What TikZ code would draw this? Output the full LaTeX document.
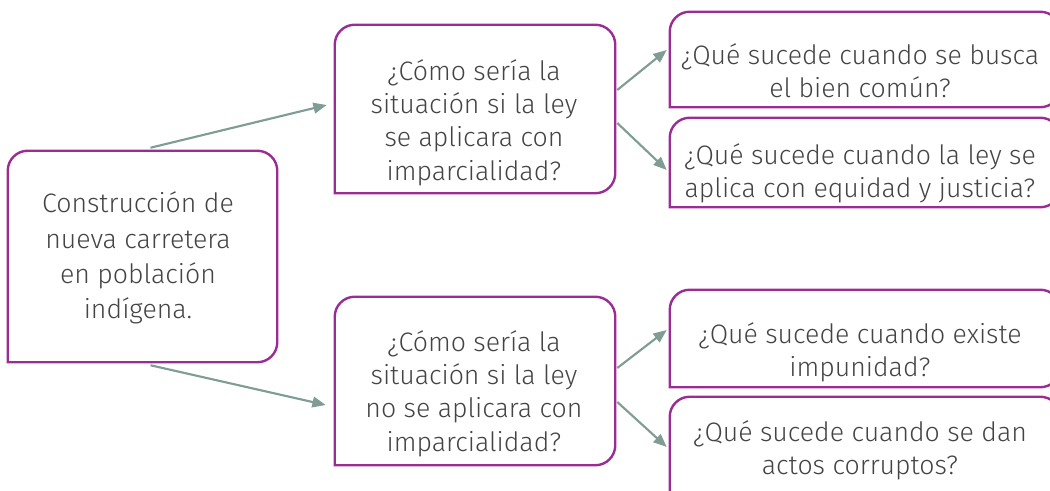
\documentclass[tikz,border=0pt]{standalone}
\usepackage{fontspec}
\setmainfont{Fira Sans}[UprightFont=* Light]
\usetikzlibrary{arrows.meta,calc}

\definecolor{framepurple}{HTML}{9B2C94}
\definecolor{arrowgray}{HTML}{7F9C95}
\definecolor{textgray}{HTML}{444444}

% frame with three rounded corners, bottom left square
\newcommand{\qframe}[1]{%
  \draw[qline] (#1.south west) -- ([yshift=-15pt]#1.north west)
    arc[start angle=180,end angle=90,radius=15pt] -- ([xshift=-15pt]#1.north east)
    arc[start angle=90,end angle=0,radius=15pt] -- ([yshift=15pt]#1.south east)
    arc[start angle=0,end angle=-90,radius=15pt] -- cycle;}

\begin{document}
\begin{tikzpicture}[x=0.75pt,y=-0.75pt,
  qbox/.style={rectangle,inner sep=0pt},
  qtext/.style={inner sep=0pt,align=center,text=textgray,
    font=\fontsize{20pt}{25pt}\selectfont},
  qline/.style={draw=framepurple,line width=1.8pt},
  qarrow/.style={draw=arrowgray,line width=1.6pt,-{Triangle[length=10pt,width=8pt]}}]
\useasboundingbox (0,0) rectangle (1050,491);
\clip (0,0) rectangle (1050,491);

%Frames
\node[qbox,minimum width=201.75pt,minimum height=158.25pt] (obra) at (142.5,256.5) {};
\node[qbox,minimum width=210pt,minimum height=126pt] (conley) at (475,109) {};
\node[qbox,minimum width=210pt,minimum height=126pt] (sinley) at (475,381) {};
\node[qbox,minimum width=292.5pt,minimum height=71.25pt] (bien) at (865,59.5) {};
\node[qbox,minimum width=292.5pt,minimum height=66.75pt] (equidad) at (865,162.5) {};
\node[qbox,minimum width=292.5pt,minimum height=72.75pt] (impunidad) at (865,338.5) {};
\node[qbox,minimum width=292.5pt,minimum height=77.25pt] (corrupcion) at (865,448.5) {};

\qframe{obra}
\qframe{conley}
\qframe{sinley}
\qframe{bien}
\qframe{equidad}
\qframe{impunidad}
\qframe{corrupcion}

%Texts
\node[qtext,font=\fontsize{20pt}{26.5pt}\selectfont] (obratxt) at (138,258)
  {Construcción de\\nueva carretera\\en población\\indígena.};
\node[qtext] (conleytxt) at (474,122.5)
  {¿Cómo sería la\\situación si la ley\\se aplicara con\\imparcialidad?};
\node[qtext] (sinleytxt) at (474,393.5)
  {¿Cómo sería la\\situación si la ley\\no se aplicara con\\imparcialidad?};
\node[qtext] (bientxt) at (860,70.5)
  {¿Qué sucede cuando se busca\\el bien común?};
\node[qtext] (equidadtxt) at (860,173)
  {¿Qué sucede cuando la ley se\\aplica con equidad y justicia?};
\node[qtext] (impunidadtxt) at (860,352.5)
  {¿Qué sucede cuando existe\\impunidad?};
\node[qtext] (corrupciontxt) at (860,450)
  {¿Qué sucede cuando se dan\\actos corruptos?};

%Arrows
\draw[qarrow] ($(obra.north)+(8,-3)$) -- ($(conley.west)+(-8,-4)$);
\draw[qarrow] ($(obra.south)+(8,3)$) -- ($(sinley.west)+(-9,24)$);
\draw[qarrow] ($(conley.east)+(2,-19)$) -- ($(bien.west)+(-3,-9.5)$);
\draw[qarrow] ($(conley.east)+(2,14)$) -- ($(equidad.west)+(-3,7.5)$);
\draw[qarrow] ($(sinley.east)+(2,-13)$) -- ($(impunidad.west)+(-3,-8.5)$);
\draw[qarrow] ($(sinley.east)+(2,21)$) -- ($(corrupcion.west)+(-3,-1.5)$);

\end{tikzpicture}
\end{document}
